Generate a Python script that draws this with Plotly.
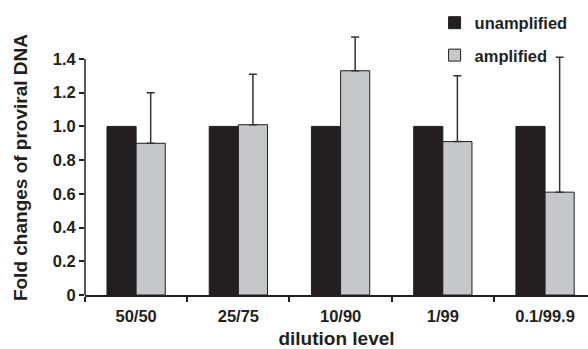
import plotly.graph_objects as go

categories = ["50/50", "25/75", "10/90", "1/99", "0.1/99.9"]
unamplified = [1.0, 1.0, 1.0, 1.0, 1.0]
amplified = [0.90, 1.01, 1.33, 0.91, 0.61]
amplified_err = [0.30, 0.30, 0.20, 0.39, 0.80]
y_tickvals = [0, 0.2, 0.4, 0.6, 0.8, 1.0, 1.2, 1.4]
y_ticktext = ["0", "0.2", "0.4", "0.6", "0.8", "1.0", "1.2", "1.4"]

FONT = "Liberation Sans, Arial, sans-serif"
INK = "#231f20"

fig = go.Figure()
fig.add_trace(go.Bar(
    x=categories, y=unamplified, name="unamplified",
    marker=dict(color=INK, line=dict(color=INK, width=1)),
    legendgroup="a", cliponaxis=False,
))
fig.add_trace(go.Bar(
    x=categories, y=amplified, name="amplified",
    marker=dict(color="#c6c7c9", line=dict(color=INK, width=1)),
    error_y=dict(type="data", array=amplified_err, symmetric=False,
                 arrayminus=[0] * len(amplified), color="#333333",
                 thickness=1.5, width=4),
    legendgroup="b", cliponaxis=False,
))

# y axis line drawn only up to the last tick (1.4), as in the original
fig.add_shape(type="line", xref="paper", x0=0, x1=0, yref="y",
              y0=0, y1=y_tickvals[-1], line=dict(color=INK, width=1.5))

fig.add_annotation(text="Fold changes of proviral DNA", textangle=-90,
                   xref="paper", yref="paper", x=-0.127, y=0.483,
                   xanchor="center", yanchor="middle", showarrow=False,
                   font=dict(size=19, family=FONT, color=INK, weight="bold"))

fig.update_layout(
    width=588, height=349,
    margin=dict(l=85, r=0, t=32, b=54),
    paper_bgcolor="white", plot_bgcolor="white",
    barmode="group", bargap=0.43, bargroupgap=0,
    font=dict(family=FONT, color=INK, size=16, weight="bold"),
    showlegend=True,
    legend=dict(x=0.695, y=1.101, xanchor="left", yanchor="top",
                font=dict(size=16.5, family=FONT, color=INK, weight="bold"),
                tracegroupgap=8, bgcolor="rgba(0,0,0,0)"),
    xaxis=dict(
        type="category", range=[-0.5, 4.42], automargin=False,
        showline=True, linecolor=INK, linewidth=1.5,
        ticks="outside", tickson="boundaries", ticklen=5, tickcolor=INK,
        tickwidth=1.5, showgrid=False, zeroline=False, ticklabelstandoff=5,
        tickfont=dict(size=16.5, family=FONT, color=INK, weight="bold"),
        title=dict(text="dilution level", standoff=21,
                   font=dict(size=19, family=FONT, color=INK, weight="bold")),
    ),
    yaxis=dict(
        range=[0, 1.56], tickvals=y_tickvals, ticktext=y_ticktext,
        automargin=False, showline=False,
        ticks="outside", ticklen=5, tickcolor=INK, tickwidth=1.5,
        showgrid=False, zeroline=False,
        tickfont=dict(size=16.5, family=FONT, color=INK, weight="bold"),
    ),
)

fig.write_html("out.html", config={"displayModeBar": False},
               post_script="document.body.style.margin='0';document.body.style.overflow='hidden';")
